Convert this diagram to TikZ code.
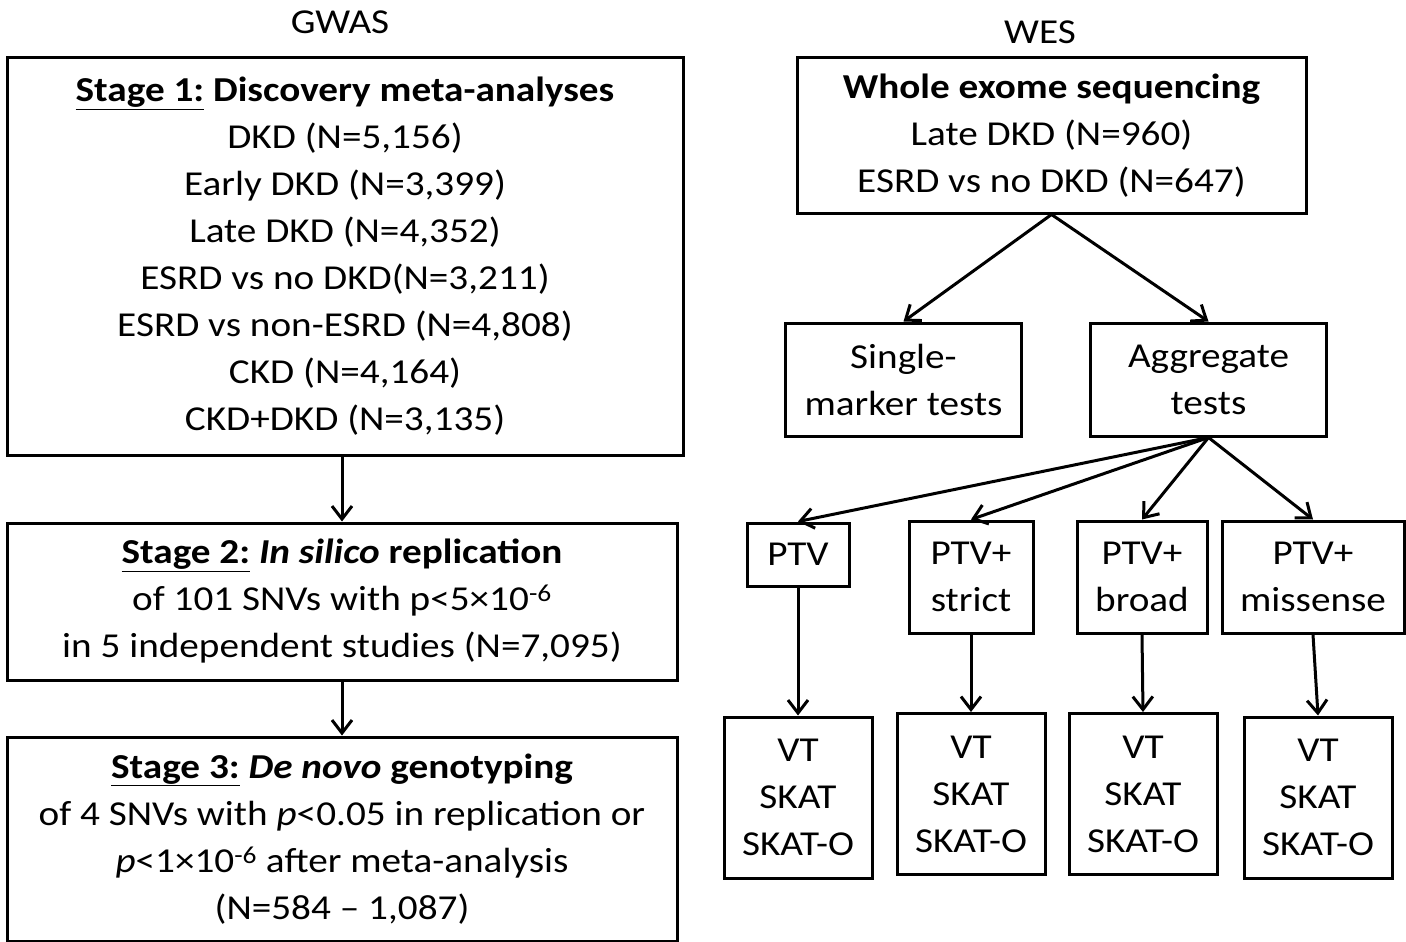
\documentclass[tikz,border=0pt]{standalone}
\usepackage{fontspec}
\setmainfont{Carlito}[FakeStretch=1.12]
\usetikzlibrary{arrows.meta}

\begin{document}
\begin{tikzpicture}[x=1pt,y=-1pt,
  txt/.style={font=\fontsize{35}{47}\selectfont},
  box/.style={draw, line width=3pt, inner sep=0pt, align=center, txt},
  conn/.style={line width=3pt, -{Straight Barb[length=13pt,width=20pt,line width=3pt]}},
]
\useasboundingbox (0,0) rectangle (1406,942);

% ---------------- GWAS column ----------------
\node[txt] (gwas) at (340,22) {GWAS};

\node[box, minimum width=676, minimum height=397] (s1) at (345,256.5)
  {\textbf{\underline{Stage 1:} Discovery meta-analyses}\\
   DKD (N=5,156)\\
   Early DKD (N=3,399)\\
   Late DKD (N=4,352)\\
   ESRD vs no DKD(N=3,211)\\
   ESRD vs non-ESRD (N=4,808)\\
   CKD (N=4,164)\\
   CKD+DKD (N=3,135)};

\node[box, minimum width=670, minimum height=157] (s2) at (342,601.5)
  {\textbf{\underline{Stage 2:} \textit{In silico} replication}\\
   of 101 SNVs with p<5×10\textsuperscript{-6}\\
   in 5 independent studies (N=7,095)};

\node[box, minimum width=670, minimum height=204] (s3) at (342,839)
  {\textbf{\underline{Stage 3:} \textit{De novo} genotyping}\\
   of 4 SNVs with \textit{p}<0.05 in replication or\\
   \textit{p}<1×10\textsuperscript{-6} after meta-analysis\\
   (N=584 – 1,087)};

\draw[conn] (s1.south -| s2.north) -- (s2.north);
\draw[conn] (s2.south) -- (s3.north);

% ---------------- WES column ----------------
\node[txt] (wes) at (1040,32) {WES};

\node[box, minimum width=509, minimum height=155] (wesbox) at (1051.5,135.5)
  {\textbf{Whole exome sequencing}\\
   Late DKD (N=960)\\
   ESRD vs no DKD (N=647)};

\node[box, minimum width=236, minimum height=113] (single) at (903.5,379.5)
  {Single-\\marker tests};
\node[box, minimum width=236, minimum height=113] (agg) at (1208.5,379.5)
  {Aggregate\\tests};

\draw[conn] (wesbox.south) -- (single.north);
\draw[conn] (wesbox.south) -- (agg.north);

% variant masks
\node[box, minimum width=102, minimum height=63] (ptv) at (798,554.5) {PTV};
\node[box, minimum width=124, minimum height=112] (strict) at (971,577) {PTV+\\strict};
\node[box, minimum width=130, minimum height=112] (broad) at (1142,577) {PTV+\\broad};
\node[box, minimum width=182, minimum height=112] (miss) at (1313,577) {PTV+\\missense};

\foreach \m in {ptv,strict,broad,miss}
  \draw[conn] (agg.south) -- (\m.north);

% test boxes
\node[box, minimum width=148, minimum height=161] (vt1) at (798,797.5) {VT\\SKAT\\SKAT-O};
\node[box, minimum width=148, minimum height=161] (vt2) at (971,794) {VT\\SKAT\\SKAT-O};
\node[box, minimum width=148, minimum height=161] (vt3) at (1143,794) {VT\\SKAT\\SKAT-O};
\node[box, minimum width=148, minimum height=161] (vt4) at (1318,797.5) {VT\\SKAT\\SKAT-O};

\draw[conn] (ptv.south) -- (vt1.north);
\draw[conn] (strict.south) -- (vt2.north);
\draw[conn] (broad.south) -- (vt3.north);
\draw[conn] (miss.south) -- (vt4.north);
\end{tikzpicture}
\end{document}
